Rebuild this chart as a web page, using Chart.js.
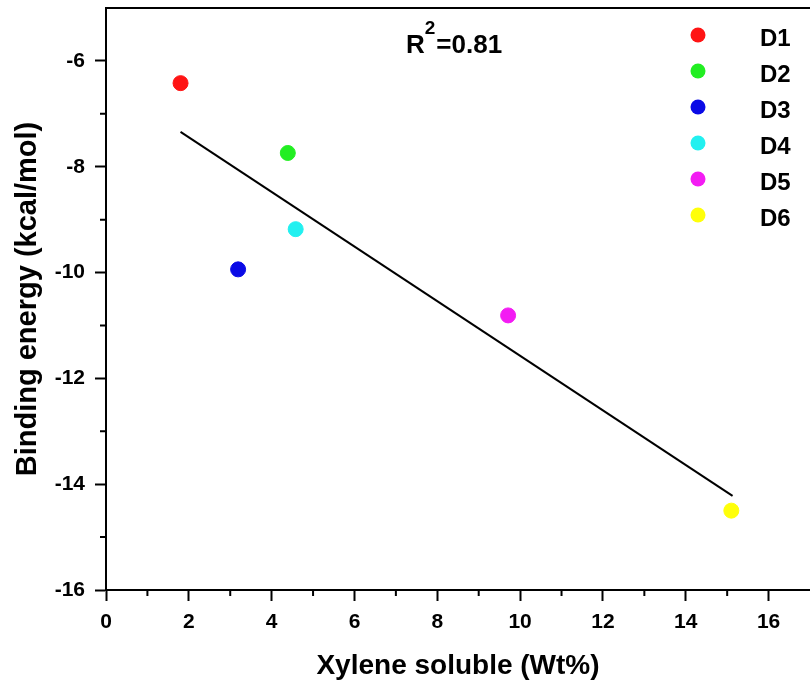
<!DOCTYPE html>
<html>
<head>
<meta charset="utf-8">
<script src="https://cdn.jsdelivr.net/npm/chart.js@4.4.0/dist/chart.umd.min.js"></script>
<style>
  html, body { margin: 0; padding: 0; background: #fff; }
  #wrap { width: 810px; height: 680px; }
</style>
</head>
<body>
<div id="wrap"><canvas id="chart"></canvas></div>
<script>
// data
const names = ["D1", "D2", "D3", "D4", "D5", "D6"];
const xylene = [1.8, 4.39, 3.19, 4.58, 9.71, 15.1];
const energy = [-6.42, -7.74, -9.94, -9.18, -10.81, -14.5];
const colors = ["#ff1414", "#22ee22", "#0a0ae6", "#22f0f0", "#f31cf3", "#ffff0a"];
const fitX = [1.8, 15.13];
const fitY = [-7.34, -14.22];
const rSquared = "0.81";

const FONT = "'Liberation Sans', Arial, sans-serif";

const pointSets = names.map((n, i) => ({
    type: "scatter",
    label: n,
    data: [{ x: xylene[i], y: energy[i] }],
    backgroundColor: colors[i],
    borderColor: colors[i],
    pointRadius: 7.5,
    pointHoverRadius: 7.5
}));

const fitSet = {
    type: "line",
    label: "fit",
    data: fitX.map((x, i) => ({ x: x, y: fitY[i] })),
    borderColor: "#000",
    borderWidth: 2,
    pointRadius: 0,
    fill: false
};

// frame top, minor ticks, R² note and the legend in the plot
const extras = {
    id: "extras",
    afterDraw(chart) {
        const { ctx, chartArea: a, scales: { x, y } } = chart;
        ctx.save();
        ctx.strokeStyle = "#000";
        ctx.lineWidth = 2;
        ctx.beginPath();
        ctx.moveTo(a.left - 1, a.top);
        ctx.lineTo(a.right, a.top);
        for (let v = 1; v < 17; v += 2) {
            const px = x.getPixelForValue(v);
            ctx.moveTo(px, a.bottom);
            ctx.lineTo(px, a.bottom + 6);
        }
        for (let v = -15; v <= -7; v += 2) {
            const py = y.getPixelForValue(v);
            ctx.moveTo(a.left, py);
            ctx.lineTo(a.left - 6, py);
        }
        ctx.stroke();

        ctx.fillStyle = "#000";
        ctx.textBaseline = "alphabetic";
        ctx.font = "bold 26px " + FONT;
        ctx.fillText("R", 406, 53);
        const rw = ctx.measureText("R").width;
        ctx.font = "bold 19px " + FONT;
        ctx.fillText("2", 406 + rw, 34);
        const sw = ctx.measureText("2").width;
        ctx.font = "bold 26px " + FONT;
        ctx.fillText("=" + rSquared, 406 + rw + sw + 1, 53);

        ctx.font = "bold 24px " + FONT;
        pointSets.forEach((ds, i) => {
            const my = 35 + i * 36;
            ctx.fillStyle = ds.backgroundColor;
            ctx.beginPath();
            ctx.arc(698, my, 7.5, 0, Math.PI * 2);
            ctx.fill();
            ctx.fillStyle = "#000";
            ctx.fillText(ds.label, 760, my + 10.5);
        });
        ctx.restore();
    }
};

new Chart(document.getElementById("chart"), {
    data: { datasets: [fitSet, ...pointSets] },
    options: {
        responsive: true,
        maintainAspectRatio: false,
        animation: false,
        layout: { autoPadding: false, padding: { top: 8, left: 0, right: 0, bottom: 0 } },
        plugins: {
            legend: { display: false },
            tooltip: { enabled: false }
        },
        scales: {
            x: {
                type: "linear",
                min: 0,
                max: 17,
                grid: { drawOnChartArea: false, tickLength: 11, tickWidth: 2, tickColor: "#000" },
                border: { color: "#000", width: 2 },
                ticks: { stepSize: 2, includeBounds: false, color: "#000", padding: 9,
                         font: { family: FONT, size: 21, weight: "bold" } },
                title: { display: true, text: "Xylene soluble (Wt%)", color: "#000",
                         padding: { top: 0, bottom: 0 },
                         font: { family: FONT, size: 28, weight: "bold", lineHeight: 1.0 } },
                afterFit(s) { s.height = 90; s.paddingLeft = 0; s.paddingRight = 0; }
            },
            y: {
                type: "linear",
                min: -16,
                max: -5,
                grid: { drawOnChartArea: false, tickLength: 11, tickWidth: 2, tickColor: "#000" },
                border: { color: "#000", width: 2 },
                ticks: { stepSize: 2, includeBounds: false, color: "#000", padding: 10,
                         font: { family: FONT, size: 21, weight: "bold" } },
                title: { display: true, text: "Binding energy (kcal/mol)", color: "#000",
                         padding: { top: 11, bottom: 0 },
                         font: { family: FONT, size: 29, weight: "bold" } },
                afterFit(s) { s.width = 106; s.paddingTop = 0; s.paddingBottom = 0; }
            }
        }
    },
    plugins: [extras]
});
</script>
</body>
</html>
